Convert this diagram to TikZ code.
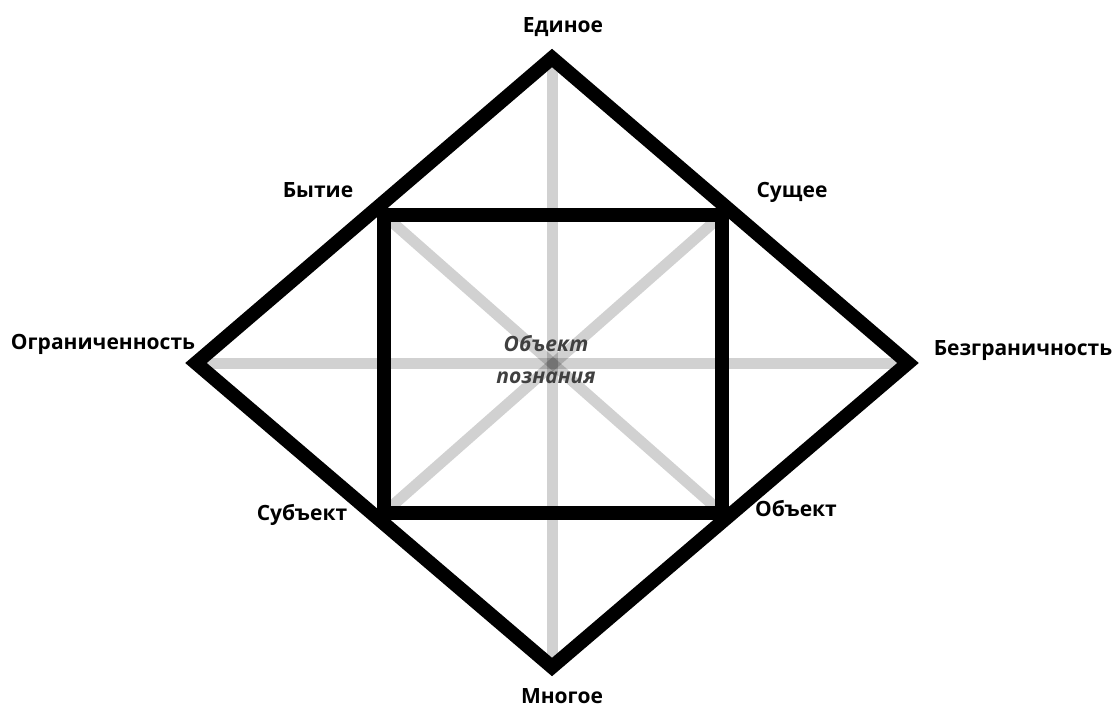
\documentclass[tikz,border=0pt]{standalone}
\usepackage{fontspec}
\setmainfont{Open Sans}
\begin{document}
\begin{tikzpicture}[x=1pt,y=-1pt,line join=miter,
    edge/.style={line width=14pt},
    ray/.style={line width=11pt,black,opacity=.18},
    pole/.style={font=\bfseries\fontsize{21}{25}\selectfont,anchor=base,
      inner sep=0pt}]
  \useasboundingbox (0,0) rectangle (1117,709);
  % Diamond corners.
  \coordinate (T) at (552,58);
  \coordinate (L) at (196,363);
  \coordinate (R) at (908,363);
  \coordinate (B) at (552,667);
  % Inner rectangle corners.
  \coordinate (TL) at (384,215);
  \coordinate (TR) at (722,215);
  \coordinate (BR) at (722,513);
  \coordinate (BL) at (384,513);

  % Grey rays through the centre.
  \draw[ray] (L) -- (R);
  \draw[ray] (T) -- (B);
  \draw[ray] (TL) -- (BR);
  \draw[ray] (TR) -- (BL);

  \draw[edge] (T) -- (R) -- (B) -- (L) -- cycle;
  \draw[edge] (TL) -- (TR) -- (BR) -- (BL) -- cycle;

  % Labels.
  \node[pole] (one) at (563,33) {Единое};
  \node[pole] (being) at (318,197) {Бытие};
  \node[pole] (entity) at (792,197) {Сущее};
  \node[pole] (limit) at (103,349) {Ограниченность};
  \node[pole] (nolimit) at (1023,355) {Безграничность};
  \node[pole] (subj) at (302,520) {Субъект};
  \node[pole] (obj) at (796,516) {Объект};
  \node[pole] (many) at (562,703) {Многое};
  \node[font=\bfseries\itshape\fontsize{21}{32}\selectfont,text=black!75,
    align=center,inner sep=0pt] (focus) at (546,360) {Объект\\познания};
\end{tikzpicture}
\end{document}
